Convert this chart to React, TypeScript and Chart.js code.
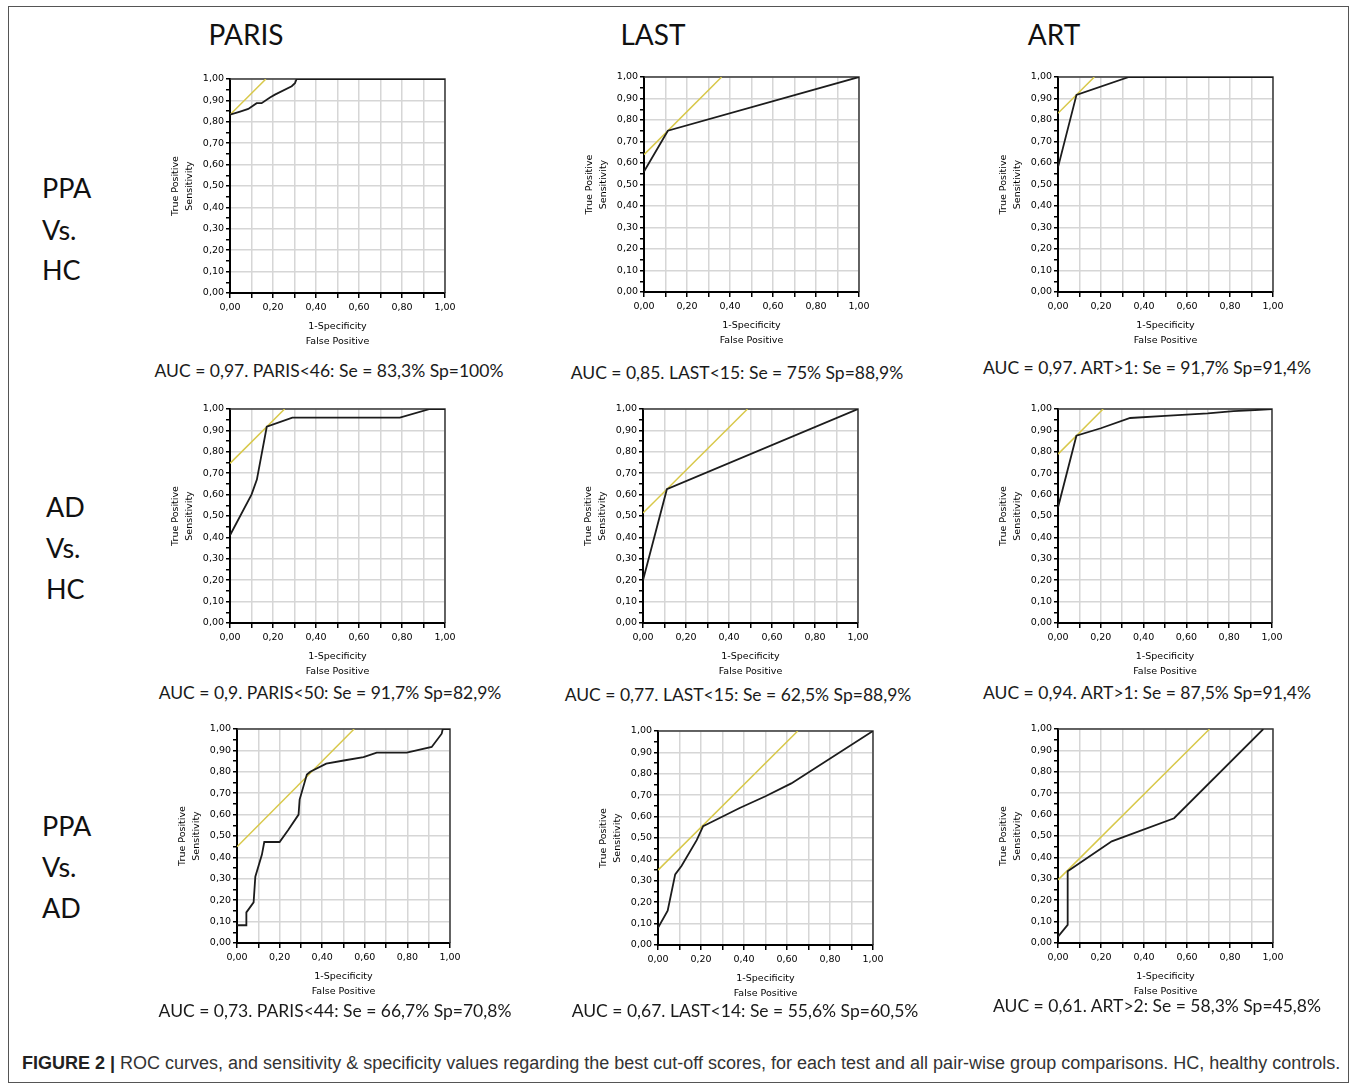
import React, { useEffect, useRef } from "react";
import { Chart, registerables } from "chart.js";
Chart.register(...registerables);

// ---------- DATA ----------
const columnHeaders = ["PARIS", "LAST", "ART"];
const rowLabels = [
  ["PPA", "Vs.", "HC"],
  ["AD", "Vs.", "HC"],
  ["PPA", "Vs.", "AD"],
];
const xTitleLines = ["1-Specificity", "False Positive"];
const yTitleLines = ["True Positive", "Sensitivity"];

// Row 1: PPA vs HC
const parisPpaHcFpr = [0, 0.047, 0.085, 0.124, 0.147, 0.186, 0.209, 0.287, 0.302, 0.31, 1];
const parisPpaHcTpr = [0.833, 0.848, 0.86, 0.887, 0.887, 0.914, 0.927, 0.966, 0.98, 1, 1];
const parisPpaHcRef = [[0, 0.833], [0.167, 1]];

const lastPpaHcFpr = [0, 0.111, 1];
const lastPpaHcTpr = [0.56, 0.75, 1];
const lastPpaHcRef = [[0, 0.639], [0.361, 1]];

const artPpaHcFpr = [0, 0.086, 0.33, 1];
const artPpaHcTpr = [0.58, 0.917, 1, 1];
const artPpaHcRef = [[0, 0.831], [0.169, 1]];

// Row 2: AD vs HC
const parisAdHcFpr = [0, 0.1, 0.125, 0.171, 0.29, 0.79, 0.93, 1];
const parisAdHcTpr = [0.41, 0.6, 0.67, 0.917, 0.96, 0.96, 1, 1];
const parisAdHcRef = [[0, 0.746], [0.254, 1]];

const lastAdHcFpr = [0, 0.111, 1];
const lastAdHcTpr = [0.2, 0.625, 1];
const lastAdHcRef = [[0, 0.514], [0.486, 1]];

const artAdHcFpr = [0, 0.086, 0.2, 0.337, 0.5, 0.7, 0.82, 0.92, 1];
const artAdHcTpr = [0.54, 0.875, 0.91, 0.958, 0.968, 0.98, 0.99, 0.995, 1];
const artAdHcRef = [[0, 0.789], [0.211, 1]];

// Row 3: PPA vs AD
const parisPpaAdFpr = [0, 0.044, 0.044, 0.078, 0.086, 0.117, 0.128, 0.2, 0.242, 0.289, 0.294, 0.328, 0.344, 0.419, 0.508, 0.594, 0.656, 0.797, 0.914, 0.961, 0.966, 1];
const parisPpaAdTpr = [0.083, 0.083, 0.143, 0.19, 0.31, 0.413, 0.472, 0.472, 0.53, 0.6, 0.67, 0.787, 0.8, 0.838, 0.854, 0.869, 0.89, 0.89, 0.916, 0.978, 1, 1];
const parisPpaAdRef = [[0, 0.45], [0.55, 1]];

const lastPpaAdFpr = [0, 0.045, 0.08, 0.11, 0.18, 0.21, 0.24, 0.38, 0.5, 0.62, 1];
const lastPpaAdTpr = [0.08, 0.16, 0.33, 0.37, 0.49, 0.555, 0.57, 0.64, 0.695, 0.755, 1];
const lastPpaAdRef = [[0, 0.35], [0.65, 1]];

const artPpaAdFpr = [0, 0.045, 0.045, 0.25, 0.54, 0.955];
const artPpaAdTpr = [0.03, 0.085, 0.335, 0.475, 0.583, 1];
const artPpaAdRef = [[0, 0.295], [0.705, 1]];

const aucCaptions = [
  "AUC = 0,97. PARIS<46: Se = 83,3% Sp=100%",
  "AUC = 0,85. LAST<15: Se = 75% Sp=88,9%",
  "AUC = 0,97. ART>1: Se = 91,7% Sp=91,4%",
  "AUC = 0,9. PARIS<50: Se = 91,7% Sp=82,9%",
  "AUC = 0,77. LAST<15: Se = 62,5% Sp=88,9%",
  "AUC = 0,94. ART>1: Se = 87,5% Sp=91,4%",
  "AUC = 0,73. PARIS<44: Se = 66,7% Sp=70,8%",
  "AUC = 0,67. LAST<14: Se = 55,6% Sp=60,5%",
  "AUC = 0,61. ART>2: Se = 58,3% Sp=45,8%",
];
const figureLabel = "FIGURE 2 |";
const figureText =
  " ROC curves, and sensitivity & specificity values regarding the best cut-off scores, for each test and all pair-wise group comparisons. HC, healthy controls.";

// ---------- LAYOUT ----------
type Panel = { fpr: number[]; tpr: number[]; ref: number[][]; left: number; top: number; w: number; h: number };
const panels: Panel[] = [
  { fpr: parisPpaHcFpr, tpr: parisPpaHcTpr, ref: parisPpaHcRef, left: 230, top: 79, w: 215, h: 214 },
  { fpr: lastPpaHcFpr, tpr: lastPpaHcTpr, ref: lastPpaHcRef, left: 644, top: 77, w: 215, h: 215 },
  { fpr: artPpaHcFpr, tpr: artPpaHcTpr, ref: artPpaHcRef, left: 1058, top: 77, w: 215, h: 215 },
  { fpr: parisAdHcFpr, tpr: parisAdHcTpr, ref: parisAdHcRef, left: 230, top: 409, w: 215, h: 214 },
  { fpr: lastAdHcFpr, tpr: lastAdHcTpr, ref: lastAdHcRef, left: 643, top: 409, w: 215, h: 214 },
  { fpr: artAdHcFpr, tpr: artAdHcTpr, ref: artAdHcRef, left: 1058, top: 409, w: 214, h: 214 },
  { fpr: parisPpaAdFpr, tpr: parisPpaAdTpr, ref: parisPpaAdRef, left: 237, top: 729, w: 213, h: 214 },
  { fpr: lastPpaAdFpr, tpr: lastPpaAdTpr, ref: lastPpaAdRef, left: 658, top: 731, w: 215, h: 214 },
  { fpr: artPpaAdFpr, tpr: artPpaAdTpr, ref: artPpaAdRef, left: 1058, top: 729, w: 215, h: 214 },
];
const captionPos = [
  [329, 371], [737, 373], [1147, 368],
  [330, 693], [738, 695], [1147, 693],
  [335, 1011], [745, 1011], [1157, 1006],
];
const headerPos = [[246, 35], [653, 35], [1054, 35]];
const rowLabelPos = [
  { left: 42, ys: [188, 230, 270] },
  { left: 46, ys: [507, 548, 589] },
  { left: 42, ys: [826, 867, 908] },
];

const Y_AXIS_W = 61;
const X_AXIS_H = 56;
const PAD_TOP = 10;
const PAD_RIGHT = 16;

const fmt = (v: number) => v.toFixed(2).replace(".", ",");
const tickFont = { family: "DejaVu Sans", size: 9.5 };

const framePlugin = {
  id: "frame",
  beforeDatasetsDraw(chart: any) {
    const { ctx, chartArea: a } = chart;
    ctx.save();
    ctx.strokeStyle = "#3a3a3a";
    ctx.lineWidth = 1.5;
    ctx.beginPath();
    ctx.moveTo(a.left, a.top);
    ctx.lineTo(a.right, a.top);
    ctx.lineTo(a.right, a.bottom);
    ctx.stroke();
    ctx.restore();
  },
};

function RocChart({ p }: { p: Panel }) {
  const ref = useRef<HTMLCanvasElement>(null);
  const cw = Y_AXIS_W + p.w + PAD_RIGHT;
  const ch = PAD_TOP + p.h + X_AXIS_H;
  useEffect(() => {
    if (!ref.current) return;
    const chart = new Chart(ref.current, {
      type: "scatter",
      data: {
        datasets: [
          {
            data: p.fpr.map((x, i) => ({ x, y: p.tpr[i] })),
            showLine: true,
            borderColor: "#1c1c1c",
            borderWidth: 1.8,
            pointRadius: 0,
            tension: 0,
          },
          {
            data: p.ref.map(([x, y]) => ({ x, y })),
            showLine: true,
            borderColor: "#d8c84a",
            borderWidth: 1.5,
            pointRadius: 0,
            tension: 0,
          },
        ],
      },
      options: {
        animation: false,
        responsive: false,
        layout: { padding: { top: PAD_TOP, right: PAD_RIGHT, left: 0, bottom: 0 } },
        plugins: { legend: { display: false }, tooltip: { enabled: false } },
        scales: {
          x: {
            type: "linear",
            min: 0,
            max: 1,
            ticks: {
              stepSize: 0.1,
              autoSkip: false,
              maxRotation: 0,
              color: "#000",
              font: tickFont,
              padding: 4,
              callback: (v: any) => {
                const n = Math.round(Number(v) * 100);
                return n % 20 === 0 ? fmt(n / 100) : "";
              },
            },
            grid: { color: "#d6d6d6", lineWidth: 1.5, tickColor: "#000", tickLength: 5 },
            border: { color: "#000", width: 2 },
            title: {
              display: true,
              text: xTitleLines,
              color: "#000",
              font: { family: "DejaVu Sans", size: 9.5, lineHeight: 15 / 9.5 },
              padding: { top: 0, bottom: 0 },
            },
            afterFit: (s: any) => {
              s.height = X_AXIS_H;
              s.paddingLeft = 0;
              s.paddingRight = 0;
            },
          },
          y: {
            type: "linear",
            min: 0,
            max: 1,
            ticks: {
              stepSize: 0.05,
              autoSkip: false,
              color: "#000",
              font: tickFont,
              padding: 2,
              callback: (v: any) => {
                const n = Math.round(Number(v) * 100);
                return n % 10 === 0 ? fmt(n / 100) : "";
              },
            },
            grid: {
              color: (c: any) =>
                Math.round(Number(c.tick?.value ?? 0) * 100) % 10 === 0 ? "#d6d6d6" : "rgba(0,0,0,0)",
              lineWidth: 1.5,
              tickColor: "#000",
              tickLength: 4,
            },
            border: { color: "#000", width: 2 },
            title: {
              display: true,
              text: yTitleLines,
              color: "#000",
              font: { family: "DejaVu Sans", size: 9.5, lineHeight: 14 / 9.5 },
              padding: { top: 0, bottom: 0 },
            },
            afterFit: (s: any) => {
              s.width = Y_AXIS_W;
              s.paddingTop = 0;
              s.paddingBottom = 0;
            },
          },
        },
      } as any,
      plugins: [framePlugin],
    });
    return () => chart.destroy();
  }, []);
  return (
    <canvas
      ref={ref}
      width={cw}
      height={ch}
      style={{
        position: "absolute",
        left: p.left - Y_AXIS_W,
        top: p.top - PAD_TOP,
        width: cw,
        height: ch,
      }}
    />
  );
}

function CenterText({ text, cx, cy, size, color, family }: any) {
  return (
    <div
      style={{
        position: "absolute",
        left: cx - 300,
        width: 600,
        top: cy - size * 0.7,
        height: size * 1.4,
        lineHeight: `${size * 1.4}px`,
        textAlign: "center",
        fontSize: size,
        fontFamily: family,
        color,
        whiteSpace: "nowrap",
      }}
    >
      {text}
    </div>
  );
}

export default function App() {
  return (
    <div
      style={{
        position: "absolute",
        left: 0,
        top: 0,
        width: 1357,
        height: 1085,
        background: "#fff",
        overflow: "hidden",
      }}
    >
      <div
        style={{
          position: "absolute",
          left: 8,
          top: 6,
          width: 1341,
          height: 1077,
          border: "1.5px solid #555",
          boxSizing: "border-box",
        }}
      />
      {columnHeaders.map((t, i) => (
        <CenterText key={t} text={t} cx={headerPos[i][0]} cy={headerPos[i][1]} size={28} color="#111" family="Lato" />
      ))}
      {rowLabels.map((lines, r) =>
        lines.map((t, k) => (
          <div
            key={`${r}-${k}`}
            style={{
              position: "absolute",
              left: rowLabelPos[r].left,
              top: rowLabelPos[r].ys[k] - 19,
              height: 38,
              lineHeight: "38px",
              fontSize: 27,
              fontFamily: "Lato",
              color: "#111",
              whiteSpace: "nowrap",
            }}
          >
            {t}
          </div>
        ))
      )}
      {panels.map((p, i) => (
        <RocChart key={i} p={p} />
      ))}
      {aucCaptions.map((t, i) => (
        <CenterText key={i} text={t} cx={captionPos[i][0]} cy={captionPos[i][1]} size={17.5} color="#1a1a1a" family="Lato" />
      ))}
      <div
        style={{
          position: "absolute",
          left: 22,
          top: 1063 - 12,
          height: 24,
          lineHeight: "24px",
          fontSize: 18,
          fontFamily: "Liberation Sans",
          color: "#333",
          whiteSpace: "nowrap",
        }}
      >
        <b style={{ color: "#222" }}>{figureLabel}</b>
        {figureText}
      </div>
    </div>
  );
}
